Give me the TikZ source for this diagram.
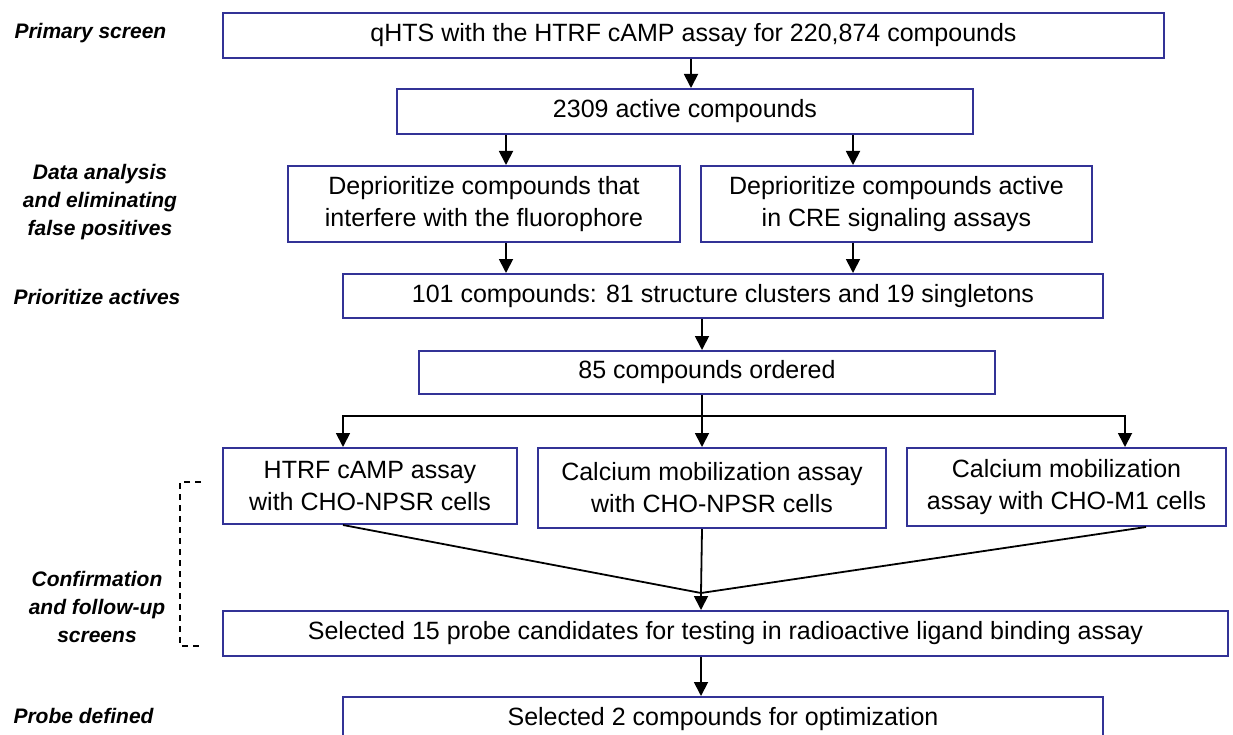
\documentclass[tikz,border=0pt]{standalone}
\usepackage{fontspec}
\setmainfont{Liberation Sans}
\usetikzlibrary{arrows.meta, positioning, calc}
\definecolor{boxblue}{RGB}{50,50,150}

\begin{document}
\begin{tikzpicture}[
    x=1pt, y=-1pt,
    box/.style={
        draw=boxblue, line width=2pt, rectangle, align=center,
        inner sep=0pt, font=\fontsize{25}{32}\selectfont
    },
    stage/.style={align=center, font=\fontsize{21}{28}\selectfont\bfseries\itshape},
    arr/.style={-{Triangle[length=14pt, width=14pt]}, line width=1.8pt},
    link/.style={line width=1.8pt}
]
    \useasboundingbox (0,0) rectangle (1233,735);

    % stage labels on the left
    \node[stage, anchor=west] (lprimary) at (11,33) {Primary screen};
    \node[stage] (lanalysis) at (100,202) {Data analysis\\ and eliminating\\ false positives};
    \node[stage, anchor=west] (lprior) at (10,297) {Prioritize actives};
    \node[stage] (lconfirm) at (97,607) {Confirmation\\ and follow-up\\ screens};
    \node[stage, anchor=west] (lprobe) at (10,716) {Probe defined};

    % boxes
    \node[box, minimum width=941pt, minimum height=45pt] (qhts) at (693.5,35.5)
        {qHTS with the HTRF cAMP assay for 220,874 compounds};
    \node[box, minimum width=576pt, minimum height=45pt] (active) at (685,111.5)
        {2309 active compounds};
    \node[box, minimum width=392pt, minimum height=76pt] (fluor) at (484,204)
        {Deprioritize compounds that\\ interfere with the fluorophore};
    \node[box, minimum width=391pt, minimum height=76pt] (cre) at (896.5,204)
        {Deprioritize compounds active\\ in CRE signaling assays};
    \node[box, minimum width=760pt, minimum height=44pt] (prior) at (723,296)
        {101 compounds: 81 structure clusters and 19 singletons};
    \node[box, minimum width=576pt, minimum height=43pt] (ordered) at (707,372.5)
        {85 compounds ordered};
    \node[box, minimum width=294pt, minimum height=76pt] (htrf) at (370,486)
        {HTRF cAMP assay\\ with CHO-NPSR cells};
    \node[box, minimum width=348pt, minimum height=80pt] (canpsr) at (712,488)
        {Calcium mobilization assay\\ with CHO-NPSR cells};
    \node[box, minimum width=319pt, minimum height=78pt] (cam1) at (1066.5,487)
        {Calcium mobilization\\ assay with CHO-M1 cells};
    \node[box, minimum width=1005pt, minimum height=45pt] (probes) at (725.5,633.5)
        {Selected 15 probe candidates for testing in radioactive ligand binding assay};
    \node[box, minimum width=760pt, minimum height=45pt] (optim) at (723,719.5)
        {Selected 2 compounds for optimization};

    \coordinate (split) at (702,416);
    \coordinate (merge) at (701,593);

    % arrows
    \draw[arr] ([xshift=-2.5pt]qhts.south) -- ([xshift=-2.5pt]qhts.south |- active.north);
    \draw[arr] ([xshift=-179pt]active.south) -- ([xshift=-179pt]active.south |- fluor.north);
    \draw[arr] ([xshift=168pt]active.south) -- ([xshift=168pt]active.south |- cre.north);
    \draw[arr] ([xshift=22pt]fluor.south) -- ([xshift=22pt]fluor.south |- prior.north);
    \draw[arr] ([xshift=-43.5pt]cre.south) -- ([xshift=-43.5pt]cre.south |- prior.north);
    \draw[arr] ([xshift=-21pt]prior.south) -- ([xshift=-21pt]prior.south |- ordered.north);
    \draw[link] (split |- ordered.south) -- (split);
    \draw[arr] (split) -- (split |- canpsr.north);
    \draw[arr] (split) -| ([xshift=-27pt]htrf.north);
    \draw[arr] (split) -| ([xshift=58.5pt]cam1.north);
    \draw[link] ([xshift=-27pt]htrf.south) -- (merge);
    \draw[link] ([xshift=-10pt]canpsr.south) -- (merge);
    \draw[link] ([xshift=79.5pt]cam1.south) -- (merge);
    \draw[arr] (merge) -- (merge |- probes.north);
    \draw[arr] ([xshift=-24.5pt]probes.south) -- ([xshift=-24.5pt]probes.south |- optim.north);

    % dashed bracket
    \draw[line width=1.5pt, dash pattern=on 6pt off 5pt] (201,482) -- (180,482) -- (180,646) -- (201,646);
\end{tikzpicture}
\end{document}
